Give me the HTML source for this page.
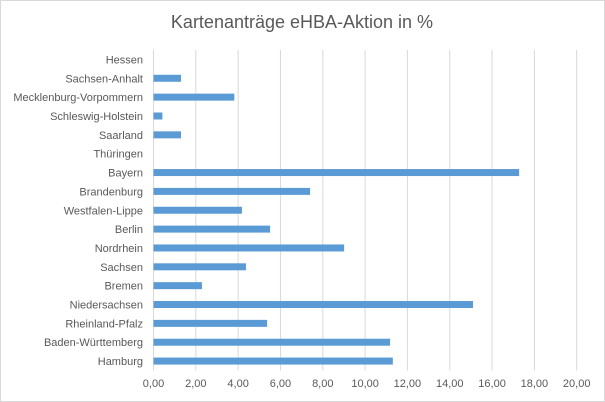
<!DOCTYPE html>
<html><head><meta charset="utf-8"><style>
body{margin:0;background:#fff}
svg{display:block;font-family:"Liberation Sans",sans-serif}
</style></head><body>
<svg id="c" width="605" height="402">
<rect x="0.5" y="0.5" width="604" height="401" fill="#fff" stroke="#d9d9d9"/>
<text x="302" y="28" text-anchor="middle" font-size="18" fill="#595959">Kartenanträge eHBA-Aktion in %</text>
<g id="grid"></g><g id="bars"></g><g id="ylab"></g><g id="xlab"></g>
</svg>
<script>
const categories=["Hessen","Sachsen-Anhalt","Mecklenburg-Vorpommern","Schleswig-Holstein","Saarland","Thüringen","Bayern","Brandenburg","Westfalen-Lippe","Berlin","Nordrhein","Sachsen","Bremen","Niedersachsen","Rheinland-Pfalz","Baden-Württemberg","Hamburg"];
const values=[0,1.3,3.82,0.42,1.3,0,17.28,7.4,4.18,5.51,9.01,4.37,2.29,15.1,5.37,11.18,11.31];
const ticks=[0,2,4,6,8,10,12,14,16,18,20];
const tickLabels=["0,00","2,00","4,00","6,00","8,00","10,00","12,00","14,00","16,00","18,00","20,00"];
const NS="http://www.w3.org/2000/svg";
const xStart=153.5,xEnd=576.7,yTop=50,yBot=370.5;
const xs=v=>xStart+(xEnd-xStart)*v/20;
const band=(yBot-yTop)/categories.length;
const yc=i=>yTop+band*(i+0.5);
function mk(t,a,p){const e=document.createElementNS(NS,t);for(const k in a)e.setAttribute(k,a[k]);p.appendChild(e);return e;}
const g=document.getElementById('grid'),b=document.getElementById('bars'),yl=document.getElementById('ylab'),xl=document.getElementById('xlab');
ticks.forEach((t,i)=>{
 const l=mk('line',{x1:xs(t),x2:xs(t),y1:yTop,y2:yBot,stroke:'#d9d9d9','stroke-width':1},g);
 
 
 const tx=mk('text',{x:xs(t),y:387,'text-anchor':'middle','font-size':11,fill:'#595959'},xl);
 tx.textContent=tickLabels[i];
 
 
});
categories.forEach((c,i)=>{
 const r=mk('rect',{x:xs(0),y:yc(i)-3.5,width:Math.max(0,xs(values[i])-xs(0)),height:7,fill:'#5b9bd5'},b);
 
 
 const t=mk('text',{x:143,y:yc(i)+4,'text-anchor':'end','font-size':11,fill:'#595959'},yl);
 t.textContent=c;
 
 
});
</script>
</body></html>
